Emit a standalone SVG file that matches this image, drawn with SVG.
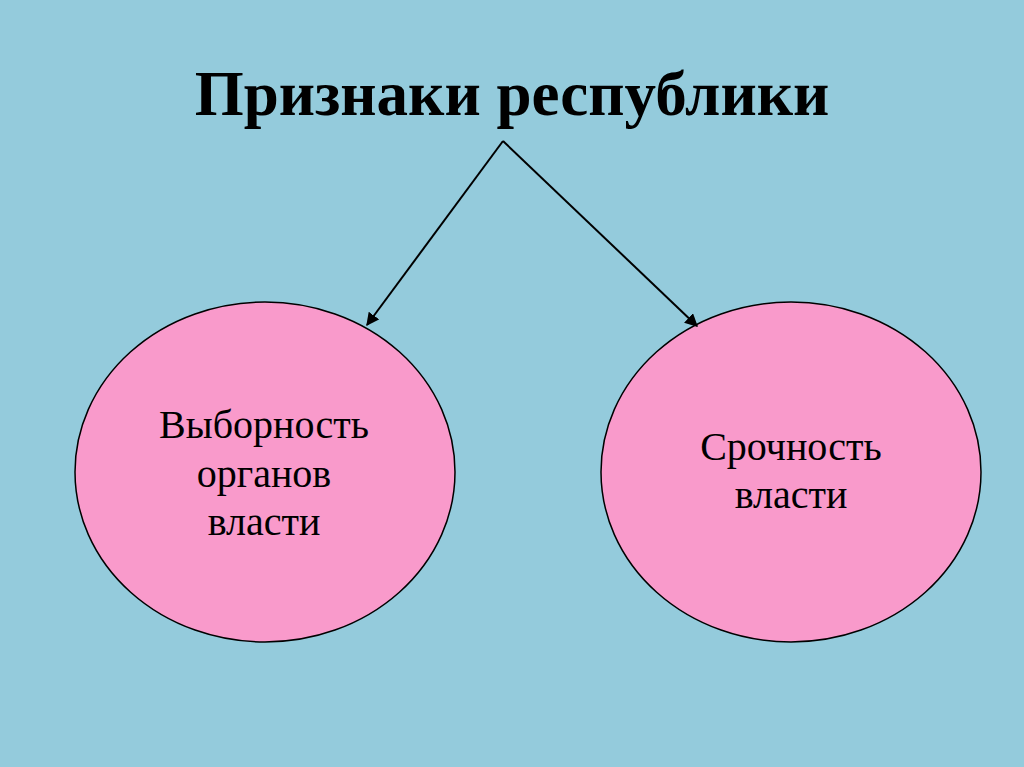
<svg xmlns="http://www.w3.org/2000/svg" width="1024" height="767" viewBox="0 0 1024 767">
<defs>
<style>
.node{fill:#F99ACB;stroke:#000;stroke-width:1.5}
.t{font-family:"Liberation Serif","Times New Roman",serif;font-size:40px;fill:#000;text-anchor:middle}
.title{font-family:"Liberation Serif","Times New Roman",serif;font-size:63px;font-weight:bold;fill:#000;text-anchor:middle}
.c{stroke:#000;stroke-width:2;fill:none;marker-end:url(#ah)}
</style>
<marker id="ah" viewBox="0 0 10 10" refX="9" refY="5" markerWidth="6.5" markerHeight="6.5" orient="auto" markerUnits="strokeWidth">
<path d="M0,0 L10,5 L0,10 z" fill="#000"/>
</marker>
</defs>
<rect width="1024" height="767" fill="#94CBDC"/>
<g id="title"><text class="title" x="512" y="115">Признаки республики</text></g>
<g id="left">
<ellipse class="node" cx="265" cy="472" rx="190" ry="170"/>
<text class="t" x="264" y="438">Выборность</text>
<text class="t" x="264" y="487">органов</text>
<text class="t" x="264" y="535">власти</text>
</g>
<g id="right">
<ellipse class="node" cx="791" cy="472" rx="190" ry="170"/>
<text class="t" x="791" y="460">Срочность</text>
<text class="t" x="791" y="508">власти</text>
</g>
<g id="connectors">
<line class="c" x1="503" y1="141" x2="367" y2="325"/>
<line class="c" x1="503" y1="141" x2="697" y2="326"/>
</g>
</svg>
